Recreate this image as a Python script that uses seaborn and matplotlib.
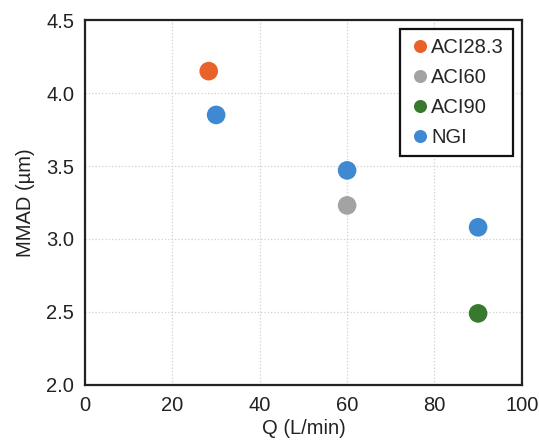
import pandas as pd
import matplotlib.pyplot as plt
import seaborn as sns

# data
series = ["ACI28.3", "ACI60", "ACI90", "NGI", "NGI", "NGI"]
flow = [28.3, 60, 90, 30, 60, 90]
mmad = [4.15, 3.23, 2.49, 3.85, 3.47, 3.08]
palette = {"ACI28.3": "#E8622A", "ACI60": "#A3A3A3", "ACI90": "#377A2E", "NGI": "#3F89D3"}

df = pd.DataFrame({"Device": series, "Q": flow, "MMAD": mmad})

sns.set_style("white")
plt.rcParams['font.family'] = ['Liberation Sans', 'DejaVu Sans']

fig = plt.figure(figsize=(5.39, 4.46), dpi=100)
ax = fig.add_axes([0.158, 0.137, 0.810, 0.818])

sns.scatterplot(data=df, x="Q", y="MMAD", hue="Device", palette=palette,
                hue_order=["ACI28.3", "ACI60", "ACI90", "NGI"],
                s=180, edgecolor="none", ax=ax, zorder=3)

ax.set_xlim(0, 100)
ax.set_ylim(2.0, 4.5)
ax.set_xticks(range(0, 101, 20))
ax.set_yticks([2.0, 2.5, 3.0, 3.5, 4.0, 4.5])
ax.set_yticklabels(["2.0", "2.5", "3.0", "3.5", "4.0", "4.5"])
ax.grid(True, color="#d0d0d0", linestyle=":", linewidth=0.9)
ax.set_axisbelow(True)
for sp in ax.spines.values():
    sp.set_color("#222222")
    sp.set_linewidth(1.6)
ax.tick_params(axis="both", labelsize=14.5, length=0, pad=8, colors="#222222")
ax.set_xlabel("Q (L/min)", fontsize=14.5, color="#222222", labelpad=3)
ax.set_ylabel("MMAD (\u00b5m)", fontsize=14.5, color="#222222", labelpad=8)

leg = ax.legend(loc="upper right", fontsize=14.5, frameon=True, fancybox=False,
                handletextpad=0.0, borderpad=0.45, labelspacing=0.55,
                handlelength=1.1, markerscale=0.7, borderaxespad=0.45,
                bbox_to_anchor=(1.0, 1.0))
leg.get_frame().set_edgecolor("#111111")
leg.get_frame().set_linewidth(1.6)
leg.get_frame().set_alpha(1)

fig.savefig("out.png", dpi=100)
